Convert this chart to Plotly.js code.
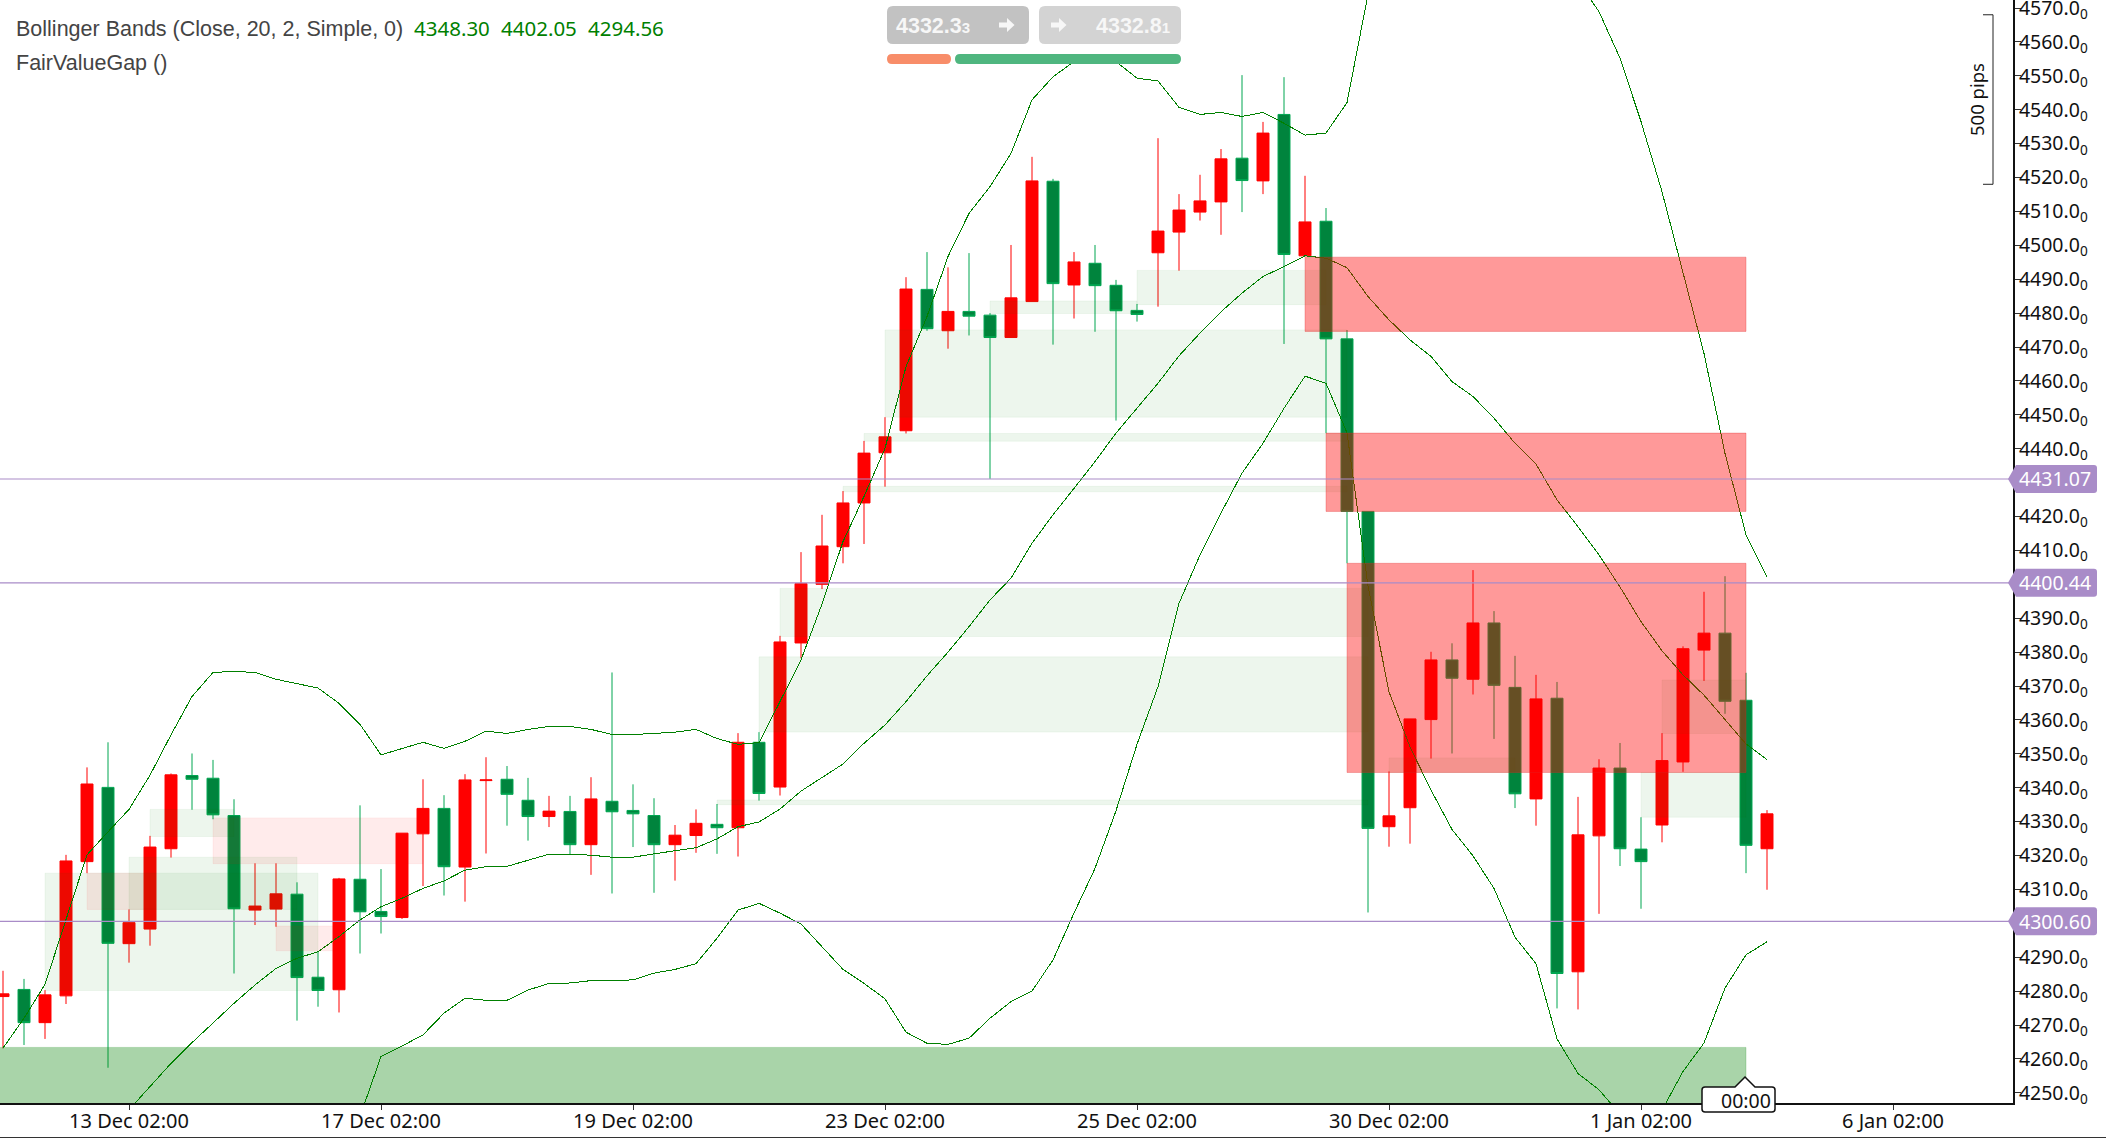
<!DOCTYPE html>
<html>
<head>
<meta charset="utf-8">
<script src="https://cdn.plot.ly/plotly-3.0.1.min.js"></script>
<style>
html, body { margin: 0; padding: 0; background: #fff; overflow: hidden; }
/* the platform draws its indicator lines without smoothing */
.js-line { shape-rendering: crispEdges; }
</style>
</head>
<body>
<div id="chart" style="width:2106px;height:1138px"></div>
<script>
// Candles, one per bar
const barOpen = [4278.4,4280.5,4270.7,4278.6,4318.2,4340.1,4294,4298.3,4322,4343.6,4342.8,4331.8,4303.9,4304.2,4308.6,4284.1,4280.4,4313,4303.5,4301.7,4326.4,4333.9,4316.6,4342.1,4342.5,4336.3,4331.5,4333,4323.2,4336,4333.3,4331.8,4323.2,4325.9,4329.2,4328.2,4353.4,4340.2,4382.7,4400,4411.1,4424,4438.8,4445.3,4487,4474.8,4480.5,4479.4,4472.8,4483.4,4518.9,4488.3,4494.7,4488.2,4480.8,4497.8,4503.9,4509.8,4512.8,4525.7,4519,4538.6,4496.9,4507.1,4472.4,4421.5,4328.5,4334.1,4360.1,4377.7,4372,4388.6,4369.6,4336.7,4366.4,4285.7,4325.8,4345.8,4321.9,4329,4347.6,4380.6,4385.6,4365.8,4322];
const barHigh = [4286,4283.6,4280.3,4320.2,4346,4353.4,4304.1,4325.8,4344.2,4350.1,4348.2,4336.6,4317.7,4317.7,4312.1,4291.6,4313.4,4334.8,4316,4326.6,4342.5,4337.8,4344,4349,4346.4,4342.9,4337.6,4337.6,4343.1,4374,4341,4336.9,4329,4333.6,4335.2,4356.1,4356.4,4384.8,4409.5,4420.5,4427.5,4442.3,4449.3,4490.6,4498,4493.5,4497.7,4480,4500.1,4526.1,4519.6,4498,4500.1,4489.8,4482.7,4531.6,4515.1,4520.8,4528.4,4550.2,4536.4,4549.6,4520.5,4511,4475,4421.6,4344.8,4360.3,4380.1,4382.6,4404.2,4392.1,4378.9,4373.3,4371.2,4337.3,4348.4,4353.2,4331.3,4356.1,4381.7,4397.8,4402.4,4373.9,4333.4];
const barLow = [4263.1,4264.1,4265.9,4276.2,4314.8,4257.4,4288.4,4293.4,4319.4,4333.5,4330.7,4285.2,4299.5,4299,4271.3,4275.4,4273.7,4291.1,4297,4301.3,4311,4308.2,4306.4,4320.6,4328.8,4324.4,4328.4,4320.4,4314.3,4308.8,4322.5,4309,4312.6,4320.8,4320.5,4319.7,4336.2,4337.7,4378.2,4398.6,4406.2,4411.9,4428.8,4444.5,4474.8,4469.5,4473.4,4431.1,4472.8,4483.4,4470.7,4478.4,4474.5,4448.3,4477.5,4481.9,4492.5,4507.3,4503.1,4509.8,4515.1,4470.9,4496.9,4444.6,4406.2,4303.2,4322.6,4323.5,4348.6,4350.1,4367.5,4354.4,4334,4328.8,4274.9,4274.6,4302.8,4316.9,4304.3,4323.9,4344.7,4371.5,4361.8,4314.8,4309.9];
const barClose = [4279.2,4270.7,4278.9,4318.4,4341.1,4294.1,4300.2,4322.5,4343.8,4342.5,4332,4304.3,4305.1,4308.7,4284,4280.2,4313.1,4303.4,4302,4326.6,4333.9,4316.7,4342.3,4342.3,4338.05,4331.5,4333.1,4323.2,4336.7,4332.9,4332.3,4323.2,4326,4329.5,4328.2,4353.4,4338.3,4383,4400.2,4411.3,4424,4438.7,4443.5,4487.1,4475.4,4480.5,4479.1,4472.8,4484.5,4519,4488.7,4495.1,4488.1,4480.7,4479.6,4504.2,4510.4,4513.1,4525.5,4519.1,4533.1,4497.3,4506.9,4472.4,4421.5,4328,4331.7,4360.3,4377.7,4372.3,4388.6,4370.2,4338.2,4366.2,4285.2,4326.1,4345.8,4322,4318.2,4348,4381,4385.6,4365.5,4323,4332.3];

// Bollinger bands, null where the line runs off the chart
const upperBand = [4263.2,4272,4282,4301,4320.2,4327,4333.6,4343.7,4355.6,4366.9,4374,4374.3,4374,4372,4370.6,4369.4,4364.9,4358.7,4349.7,4351.5,4353.4,4351.6,4353.7,4356.7,4356,4357.2,4358.1,4358.1,4357.2,4355.7,4355.7,4356,4356.4,4357.2,4354.5,4352.8,4353.3,4365.4,4377.7,4394.2,4412.6,4425.9,4440.1,4464.2,4479,4496.7,4509.4,4517.3,4527.1,4542.9,4549.7,4554.2,4555.5,4554.2,4549.3,4548.5,4540.7,4538.6,4539.2,4538,4539.2,4536,4532.5,4533.1,4542.1,4574,null,null,null,null,null,null,null,null,null,4578,4568.9,4555.2,4536.5,4515.8,4491.7,4468.1,4438.6,4414.6,4402.05];
const middleBand = [null,null,null,null,null,null,4245,4252,4258.7,4264.8,4270.5,4276.4,4281.8,4286.7,4289.7,4291.6,4296.1,4301,4304.9,4307.4,4310.3,4312.5,4315.7,4316.7,4316.8,4318.7,4320.4,4320.4,4320.1,4319.5,4319.5,4320.5,4321.4,4322.3,4324.9,4328.5,4329.9,4333.7,4339,4343.1,4347,4353.1,4358.5,4365.4,4373,4380,4387.5,4395.4,4401.8,4412.1,4420.5,4428.3,4436.2,4444.6,4451.9,4459.3,4467.4,4474.1,4480.4,4485.9,4490.8,4493.7,4496.9,4496.2,4493.4,4484.9,4478,4472.1,4467.2,4459.8,4455.4,4449,4441.6,4435.5,4424.9,4417,4408.7,4399.2,4389,4380.4,4373.3,4367.3,4360.1,4352.9,4348.3];
const lowerBand = [null,null,null,null,null,null,null,null,null,null,null,null,null,null,null,null,null,4243,4260.7,4263.8,4267.1,4273.5,4277.9,4277.3,4277.3,4280.3,4282.3,4282.4,4283.1,4283.2,4283.3,4285.3,4286.4,4288.1,4295.6,4303.9,4305.9,4303,4299.8,4293.1,4286.4,4282.3,4277.7,4267.9,4264.6,4264.3,4266.1,4272,4276.9,4280,4289.2,4303,4316.2,4333.2,4352.8,4369.8,4394.4,4408.7,4421,4432.8,4441.6,4451.9,4461.4,4459.3,4444.7,4399.5,4368.3,4352,4339.3,4327.7,4319.9,4310.3,4295.9,4288.1,4265.9,4255.7,4250.9,4243.7,null,4244.9,4256.3,4264.7,4280.9,4290.7,4294.56];

// Fair value gaps: first bar, last bar, top, bottom, kind
const gapStart = [2,6,7,10,4,13,36,37,34,40,41,42,47,54,79,78,66,62,63,64,-1];
const gapEnd = [15,14,11,20,7,16,65,65,65,64,64,64,54,63,83,83,72,83,83,83,83];
const gapTop = [4314.8,4319.5,4333.6,4331.1,4314.8,4299.2,4378.6,4398.8,4336.4,4428.9,4444.5,4475.05,4483.6,4492.6,4371.8,4344.5,4348.8,4496.5,4444.6,4406.2,4263.4];
const gapBottom = [4280.2,4304.1,4325.6,4317.6,4304.1,4291.9,4356.4,4384.6,4335,4427.3,4442.2,4449.3,4479.9,4482.5,4356,4331.3,4344.5,4474.6,4421.5,4344.5,4240];
const gapKind = ['lightGreen','lightGreen','lightGreen','lightRed','lightRed','lightRed','lightGreen','lightGreen','lightGreen','lightGreen','lightGreen','lightGreen','lightGreen','lightGreen','lightGreen','lightGreen','lightGreen','strongRed','strongRed','strongRed','strongGreen'];

// Price alerts
const alertPrices = [4431.07, 4400.44, 4300.60];
const alertLabels = ['4431.07', '4400.44', '4300.60'];

// Axis ticks (alert tags hide 4430, 4400 and 4300)
const xTickBars = [6, 18, 30, 42, 54, 66, 78, 90];
const xTickLabels = ['13 Dec 02:00', '17 Dec 02:00', '19 Dec 02:00', '23 Dec 02:00', '25 Dec 02:00', '30 Dec 02:00', '1 Jan 02:00', '6 Jan 02:00'];
const yTickPrices = [4250,4260,4270,4280,4290,4310,4320,4330,4340,4350,4360,4370,4380,4390,4410,4420,4440,4450,4460,4470,4480,4490,4500,4510,4520,4530,4540,4550,4560,4570];

const W = 2106;
const H = 1138;
const PLOT_W = 2013;
const PLOT_H = 1103;
const AXIS_FONT = 'Noto Sans, sans-serif';
const LABEL_FONT = 'Liberation Sans, Arial, sans-serif';

const gapStyles = {
    lightGreen: { fill: 'rgba(0,128,0,0.07)', line: 'rgba(0,128,0,0.05)' },
    lightRed: { fill: 'rgba(255,0,0,0.08)', line: 'rgba(255,0,0,0.05)' },
    strongRed: { fill: 'rgba(255,0,0,0.4)', line: 'rgba(220,40,40,0.3)' },
    strongGreen: { fill: 'rgba(0,128,0,0.337)', line: 'rgba(0,128,0,0.2)' }
};

let barIndex = barOpen.map((v, i) => i);

let candles = {
    type: 'candlestick',
    x: barIndex,
    open: barOpen,
    high: barHigh,
    low: barLow,
    close: barClose,
    whiskerwidth: 0,
    increasing: { line: { color: '#ff0000', width: 1 }, fillcolor: '#ff0000' },
    decreasing: { line: { color: '#00a651', width: 1 }, fillcolor: '#00843d' },
    hoverinfo: 'skip',
    showlegend: false
};

function bandTrace(values) {
    return {
        type: 'scatter',
        mode: 'lines',
        x: barIndex,
        y: values,
        connectgaps: false,
        line: { color: '#008000', width: 1 },
        hoverinfo: 'skip',
        showlegend: false
    };
}

let data = [candles, bandTrace(upperBand), bandTrace(middleBand), bandTrace(lowerBand)];

let shapes = [];
let annotations = [];

// Paint the gaps over the candles
for (let i in gapStart) {
    let style = gapStyles[gapKind[i]];
    shapes.push({
        type: 'rect',
        layer: 'above',
        x0: gapStart[i],
        x1: gapEnd[i],
        y0: gapBottom[i],
        y1: gapTop[i],
        fillcolor: style.fill,
        line: { color: style.line, width: 1 }
    });
}

// Alert lines with their tags on the price axis
for (let i in alertPrices) {
    shapes.push({
        type: 'line',
        layer: 'above',
        xref: 'paper',
        x0: 0,
        x1: 1,
        y0: alertPrices[i],
        y1: alertPrices[i],
        line: { color: '#a98cc8', width: 1.2 }
    });
    shapes.push({
        type: 'path',
        layer: 'above',
        xref: 'paper',
        xsizemode: 'pixel',
        xanchor: 1,
        ysizemode: 'pixel',
        yanchor: alertPrices[i],
        path: 'M -5 0 L 3 14 L 81 14 Q 84 14 84 11 L 84 -11 Q 84 -14 81 -14 L 3 -14 Z',
        fillcolor: '#a98cc8',
        line: { width: 0 }
    });
    annotations.push({
        text: alertLabels[i],
        xref: 'paper',
        x: 1,
        xanchor: 'left',
        xshift: 4,
        y: alertPrices[i],
        yanchor: 'middle',
        showarrow: false,
        font: { family: AXIS_FONT, size: 19.5, color: '#ffffff' }
    });
}

// Shape drawn in picture pixels, origin at the top left of the page
function pixelShape(path, fill, line) {
    return {
        type: 'path',
        layer: 'above',
        xref: 'paper',
        yref: 'paper',
        xsizemode: 'pixel',
        ysizemode: 'pixel',
        xanchor: 0,
        yanchor: 1,
        path: path,
        fillcolor: fill,
        line: line || { width: 0 }
    };
}

function roundedBox(x0, y0, x1, y1, r) {
    let a = -y0, b = -y1;
    return 'M ' + (x0 + r) + ' ' + a + ' L ' + (x1 - r) + ' ' + a + ' Q ' + x1 + ' ' + a + ' ' + x1 + ' ' + (a - r) +
        ' L ' + x1 + ' ' + (b + r) + ' Q ' + x1 + ' ' + b + ' ' + (x1 - r) + ' ' + b +
        ' L ' + (x0 + r) + ' ' + b + ' Q ' + x0 + ' ' + b + ' ' + x0 + ' ' + (b + r) +
        ' L ' + x0 + ' ' + (a - r) + ' Q ' + x0 + ' ' + a + ' ' + (x0 + r) + ' ' + a + ' Z';
}

function arrowPath(x, y) {
    let p = [[x, y - 2.5], [x + 8, y - 2.5], [x + 8, y - 7], [x + 15.5, y], [x + 8, y + 7], [x + 8, y + 2.5], [x, y + 2.5]];
    return 'M ' + p.map(q => q[0] + ' ' + (-q[1])).join(' L ') + ' Z';
}

function textAt(px, py, text, font, anchor, extra) {
    return Object.assign({
        text: text,
        xref: 'paper',
        yref: 'paper',
        x: px / PLOT_W,
        y: 1 - py / PLOT_H,
        xanchor: anchor || 'left',
        yanchor: 'middle',
        showarrow: false,
        borderpad: 0,
        font: font
    }, extra || {});
}

// One click trading panel
shapes.push(pixelShape(roundedBox(887, 6, 1029, 44, 6), '#c2c2c2'));
shapes.push(pixelShape(roundedBox(1039, 6, 1181, 44, 6), '#d3d3d3'));
shapes.push(pixelShape(roundedBox(887, 54, 951, 64, 5), '#f88d69'));
shapes.push(pixelShape(roundedBox(955, 54, 1181, 64, 5), '#4fb67f'));
shapes.push(pixelShape(arrowPath(999, 25), '#f7f7f7'));
shapes.push(pixelShape(arrowPath(1051, 25), '#f7f7f7'));
let panelFont = { family: LABEL_FONT, size: 21.5, color: '#f7f7f7', weight: 700 };
annotations.push(textAt(895, 26, '4332.3<span style="font-size:15px">3</span>', panelFont));
annotations.push(textAt(1095, 26, '4332.8<span style="font-size:15px">1</span>', panelFont));

// 500 pips ruler
shapes.push({
    type: 'path',
    layer: 'above',
    xref: 'paper',
    xsizemode: 'pixel',
    xanchor: 1,
    path: 'M -30 4568 L -20 4568 L -20 4518 L -30 4518',
    line: { color: '#222222', width: 1 }
});
annotations.push(textAt(1977, 100, '500 pips', { family: AXIS_FONT, size: 18.5, color: '#111111' }, 'center', { textangle: -90 }));

// Countdown box on the time axis
shapes.push(pixelShape('M 1705 -1087 L 1735 -1087 L 1745 -1077 L 1755 -1087 L 1772 -1087 Q 1775 -1087 1775 -1090 L 1775 -1109 Q 1775 -1112 1772 -1112 L 1705 -1112 Q 1702 -1112 1702 -1109 L 1702 -1090 Q 1702 -1087 1705 -1087 Z',
    '#ffffff', { color: '#111111', width: 1.5 }));
annotations.push(textAt(1746, 1100, '00:00', { family: AXIS_FONT, size: 19.5, color: '#111111' }, 'center'));

// Frame line along the bottom of the window
shapes.push(pixelShape('M 0 -1137.5 L ' + W + ' -1137.5', 'rgba(0,0,0,0)', { color: '#333333', width: 1 }));

// Indicator legend
let legendFont = { family: LABEL_FONT, size: 21.5, color: '#444444' };
let valueFont = { family: AXIS_FONT, size: 20.5, color: '#008000' };
annotations.push(textAt(15, 29, 'Bollinger Bands (Close, 20, 2, Simple, 0)', legendFont));
annotations.push(textAt(15, 63, 'FairValueGap ()', legendFont));
annotations.push(textAt(413, 28, '4348.30', valueFont));
annotations.push(textAt(500, 28, '4402.05', valueFont));
annotations.push(textAt(587, 28, '4294.56', valueFont));

let layout = {
    width: W,
    height: H,
    showlegend: false,
    paper_bgcolor: '#ffffff',
    plot_bgcolor: '#ffffff',
    boxgap: 0.43,
    boxgroupgap: 0,
    margin: { l: 0, r: W - PLOT_W, t: 0, b: H - PLOT_H, pad: 0 },
    shapes: shapes,
    annotations: annotations,
    xaxis: {
        type: 'linear',
        range: [-0.143, 95.714],
        rangeslider: { visible: false },
        showgrid: false,
        zeroline: false,
        showline: true,
        linecolor: '#111111',
        linewidth: 2,
        ticks: 'outside',
        ticklen: 5,
        tickwidth: 1,
        tickcolor: '#333333',
        tickmode: 'array',
        tickvals: xTickBars,
        ticktext: xTickLabels,
        ticklabelstandoff: -6,
        ticklabeloverflow: 'allow',
        tickfont: { family: AXIS_FONT, size: 20, color: '#111111' }
    },
    yaxis: {
        side: 'right',
        range: [4247, 4572.36],
        showgrid: false,
        zeroline: false,
        showline: true,
        linecolor: '#111111',
        linewidth: 2,
        ticks: 'outside',
        ticklen: 6,
        tickwidth: 1,
        tickcolor: '#333333',
        tickmode: 'array',
        tickvals: yTickPrices,
        ticktext: yTickPrices.map(v => v + '.0<sub>0</sub>'),
        ticklabelstandoff: -6,
        ticklabeloverflow: 'allow',
        tickfont: { family: AXIS_FONT, size: 19.5, color: '#111111' }
    }
};

let config = {
    displayModeBar: false,
    responsive: false
};

Plotly.newPlot(document.getElementById('chart'), data, layout, config);
</script>
</body>
</html>
